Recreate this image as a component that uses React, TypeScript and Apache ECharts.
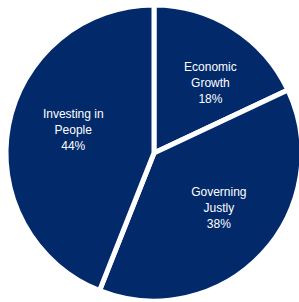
import React, { useEffect, useRef } from "react";
import * as echarts from "echarts";

const categories = ["Economic\nGrowth", "Governing\nJustly", "Investing in\nPeople"];
const values = [18, 38, 44];

export default function App() {
  const ref = useRef<HTMLDivElement>(null);
  useEffect(() => {
    if (!ref.current) return;
    const chart = echarts.init(ref.current, undefined, { renderer: "svg" });
    const labelOffsets = [[8, 6], [-1, -7], [8, -6]];
    const data = categories.map((c, i) => ({ name: c, value: values[i] }));
    const labelData = categories.map((c, i) => ({
      name: c,
      value: values[i],
      label: { offset: labelOffsets[i] },
    }));
    const R = 148;
    chart.setOption({
      animation: false,
      backgroundColor: "#ffffff",
      series: [
        {
          type: "pie",
          center: [154, 153],
          radius: [0, R],
          startAngle: 90,
          clockwise: true,
          silent: true,
          label: { show: false },
          labelLine: { show: false },
          itemStyle: { color: "#022a6b", borderColor: "#ffffff", borderWidth: 5 },
          data,
        },
        {
          type: "pie",
          center: [154, 153],
          radius: [R * 0.38, R * 0.8],
          startAngle: 90,
          clockwise: true,
          silent: true,
          itemStyle: { color: "rgba(0,0,0,0)" },
          labelLine: { show: false },
          label: {
            show: true,
            position: "inside",
            formatter: "{b}\n{c}%",
            color: "#ffffff",
            fontFamily: "Liberation Sans, Arial, sans-serif",
            fontSize: 12,
            lineHeight: 16,
            align: "center",
          },
          data: labelData,
        },
      ],
    });
    return () => chart.dispose();
  }, []);
  return (
    <div
      ref={ref}
      style={{ position: "fixed", left: 0, top: 0, width: 299, height: 302 }}
    />
  );
}
